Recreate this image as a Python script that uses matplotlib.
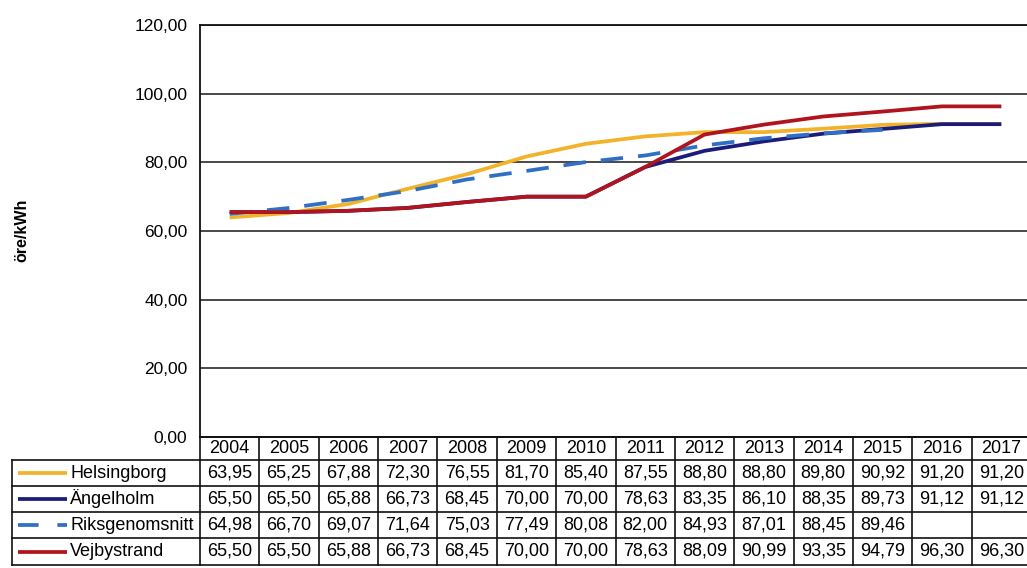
import numpy as np
import matplotlib
matplotlib.use('Agg')
import matplotlib.pyplot as plt
from matplotlib.transforms import blended_transform_factory
from matplotlib.lines import Line2D

plt.rcParams['font.family'] = ['Liberation Sans', 'DejaVu Sans']

years = [2004, 2005, 2006, 2007, 2008, 2009, 2010, 2011, 2012, 2013, 2014, 2015, 2016, 2017]
series_names = ["Helsingborg", "Ängelholm", "Riksgenomsnitt", "Vejbystrand"]
helsingborg = [63.95, 65.25, 67.88, 72.30, 76.55, 81.70, 85.40, 87.55, 88.80, 88.80, 89.80, 90.92, 91.20, 91.20]
angelholm = [65.50, 65.50, 65.88, 66.73, 68.45, 70.00, 70.00, 78.63, 83.35, 86.10, 88.35, 89.73, 91.12, 91.12]
riksgenomsnitt = [64.98, 66.70, 69.07, 71.64, 75.03, 77.49, 80.08, 82.00, 84.93, 87.01, 88.45, 89.46, np.nan, np.nan]
vejbystrand = [65.50, 65.50, 65.88, 66.73, 68.45, 70.00, 70.00, 78.63, 88.09, 90.99, 93.35, 94.79, 96.30, 96.30]
y_ticks = [0, 20, 40, 60, 80, 100, 120]
y_label = "öre/kWh"

series = [helsingborg, angelholm, riksgenomsnitt, vejbystrand]
colors = ["#F2B32A", "#1C1C7A", "#2F6FC4", "#B0141E"]
styles = [dict(), dict(), dict(dashes=(6, 4)), dict()]

W, H = 1027, 568
fig = plt.figure(figsize=(W / 100, H / 100), dpi=100)
fig.patch.set_facecolor('white')

# plot area in pixels
left, right, top, bottom = 200, 1031, 25, 437
ax = fig.add_axes([left / W, 1 - bottom / H, (right - left) / W, (bottom - top) / H])
ax.set_xlim(-0.5, len(years) - 0.5)
ax.set_ylim(0, 120)
ax.set_yticks(y_ticks)
ax.set_yticklabels([f"{v:.2f}".replace('.', ',') for v in y_ticks], fontsize=12.5)
ax.set_xticks([])
ax.tick_params(axis='y', length=0, pad=9)
ax.yaxis.grid(True, color='#2a2a2a', lw=1.2)
ax.set_axisbelow(True)
ax.spines['right'].set_visible(False)
for s in ['left', 'top', 'bottom']:
    ax.spines[s].set_color('#111111')
    ax.spines[s].set_linewidth(1.3)

x = np.arange(len(years))
for vals, c, st in zip(series, colors, styles):
    ax.plot(x, vals, color=c, lw=2.7, solid_capstyle='butt', **st)

fig.text(22 / W, 1 - 230 / H, y_label, rotation=90, fontsize=11.5, fontweight='bold',
         ha='center', va='center')

# data table
tr = blended_transform_factory(ax.transData, fig.transFigure)
def fy(p):
    return 1 - p / H

row_edges = [437, 460, 486, 512, 538, 565]
lw_t = 1.2
tc = '#111111'
for ye in row_edges:
    fig.add_artist(Line2D([-0.5, len(years) - 0.5], [fy(ye), fy(ye)], transform=tr,
                          color=tc, lw=lw_t, clip_on=False))
for i in range(len(years) + 1):
    xe = i - 0.5
    fig.add_artist(Line2D([xe, xe], [fy(row_edges[0]), fy(row_edges[-1])], transform=tr,
                          color=tc, lw=lw_t, clip_on=False))
lx0, lx1 = 12, 200
for ye in row_edges[1:]:
    fig.add_artist(Line2D([lx0 / W, lx1 / W], [fy(ye), fy(ye)], transform=fig.transFigure,
                          color=tc, lw=lw_t))
fig.add_artist(Line2D([lx0 / W, lx0 / W], [fy(row_edges[1]), fy(row_edges[-1])],
                      transform=fig.transFigure, color=tc, lw=lw_t))

hy = (row_edges[0] + row_edges[1]) / 2
for i, yr in enumerate(years):
    fig.text(i, fy(hy), str(yr), transform=tr, ha='center', va='center', fontsize=13)

for r, (name, vals, c, st) in enumerate(zip(series_names, series, colors, styles)):
    cy = (row_edges[r + 1] + row_edges[r + 2]) / 2
    for i, v in enumerate(vals):
        if np.isnan(v):
            continue
        fig.text(i, fy(cy), f"{v:.2f}".replace('.', ','), transform=tr,
                 ha='center', va='center', fontsize=13)
    fig.add_artist(Line2D([18 / W, 67 / W], [fy(cy), fy(cy)], transform=fig.transFigure,
                          color=c, lw=2.7, solid_capstyle='butt',
                          **(dict(dashes=(5.5, 5)) if st else {})))
    fig.text(70 / W, fy(cy), name, ha='left', va='center', fontsize=13)

fig.savefig('out.png', dpi=100, facecolor='white')
